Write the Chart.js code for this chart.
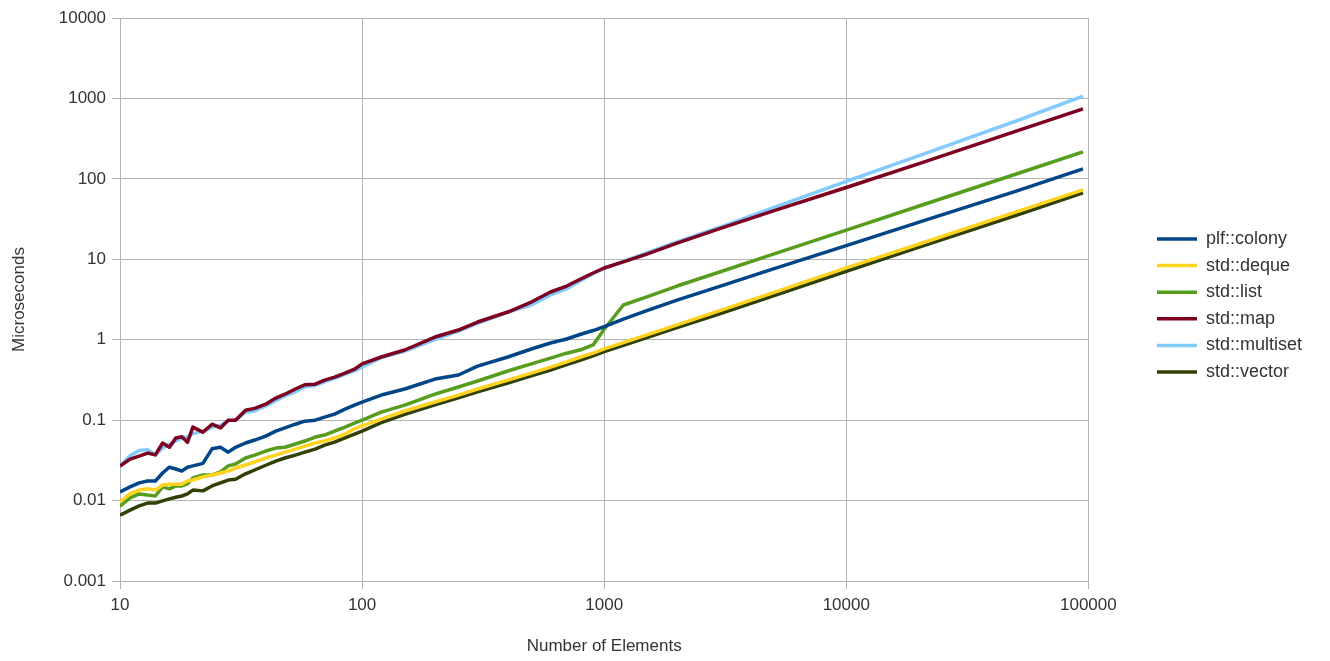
<!DOCTYPE html>
<html>
<head>
<meta charset="utf-8">
<script src="https://cdn.jsdelivr.net/npm/chart.js@4/dist/chart.umd.min.js"></script>
<style>
  body { margin: 0; background: #fff; }
  #wrap { width: 1330px; height: 661px; }
</style>
</head>
<body>
<div id="wrap"><canvas id="benchChart" width="1330" height="661"></canvas></div>
<script>
// number of elements (x) shared by all series
var sizes = [10, 11, 12, 13, 14, 15, 16, 17, 18, 19, 20, 22, 24, 26, 28, 30, 33, 36, 40, 44, 48, 53, 58, 64, 70, 77, 85, 93, 100,
    120, 150, 200, 250, 300, 400, 500, 600, 700, 800, 900, 1000, 1200, 1500, 2000, 3000, 5000, 10000, 20000, 50000, 95000];

// microseconds
var colony = [0.0128, 0.0148, 0.0166, 0.0175, 0.0175, 0.022, 0.026, 0.0247, 0.0233, 0.026, 0.027, 0.029, 0.044, 0.046, 0.040, 0.046,
    0.052, 0.0566, 0.0634, 0.073, 0.080, 0.089, 0.097, 0.100, 0.109, 0.119, 0.137, 0.154, 0.168,
    0.205, 0.244, 0.324, 0.364, 0.47, 0.61, 0.766, 0.91, 1.02, 1.17, 1.3, 1.45, 1.8, 2.3, 3.1, 4.6, 7.6, 14.8, 29, 70, 133];
var deque = [0.0096, 0.0121, 0.0135, 0.014, 0.0135, 0.0156, 0.016, 0.016, 0.016, 0.0175, 0.018, 0.0197, 0.0208, 0.022, 0.0233, 0.0254,
    0.0277, 0.0302, 0.0338, 0.0368, 0.040, 0.0437, 0.0476, 0.052, 0.055, 0.060, 0.0672, 0.078, 0.085,
    0.103, 0.13, 0.168, 0.205, 0.244, 0.315, 0.385, 0.457, 0.53, 0.61, 0.68, 0.77, 0.92, 1.15, 1.53, 2.3, 3.85, 7.8, 15.5, 38.5, 73];
var list = [0.0085, 0.0108, 0.0121, 0.0117, 0.0114, 0.0148, 0.014, 0.0152, 0.0152, 0.0161, 0.0191, 0.0208, 0.0208, 0.0227, 0.027, 0.0285,
    0.0338, 0.0368, 0.0413, 0.0449, 0.046, 0.0505, 0.055, 0.0617, 0.0653, 0.0732, 0.082, 0.092, 0.10,
    0.126, 0.154, 0.211, 0.258, 0.307, 0.408, 0.5, 0.59, 0.68, 0.75, 0.86, 1.35, 2.7, 3.4, 4.65, 6.95, 11.6, 23, 46, 114, 216];
var map = [0.0269, 0.0328, 0.0357, 0.039, 0.037, 0.052, 0.046, 0.060, 0.062, 0.053, 0.082, 0.071, 0.089, 0.080, 0.10, 0.10,
    0.133, 0.14, 0.158, 0.188, 0.21, 0.244, 0.275, 0.28, 0.315, 0.343, 0.385, 0.43, 0.5,
    0.61, 0.745, 1.08, 1.32, 1.66, 2.21, 2.94, 3.92, 4.65, 5.69, 6.75, 7.79, 9.3, 11.6, 15.9, 24, 40, 78, 155, 390, 740];
var multiset = [0.027, 0.036, 0.042, 0.043, 0.037, 0.045, 0.05, 0.055, 0.06, 0.062, 0.068, 0.072, 0.082, 0.086, 0.1, 0.1,
    0.125, 0.13, 0.15, 0.175, 0.2, 0.225, 0.26, 0.27, 0.3, 0.33, 0.37, 0.41, 0.46,
    0.6, 0.72, 1.0, 1.28, 1.6, 2.2, 2.7, 3.6, 4.3, 5.4, 6.6, 7.7, 9.4, 12, 16.5, 25, 44, 93, 195, 520, 1070];
var vector = [0.0066, 0.0076, 0.0086, 0.0093, 0.0093, 0.0099, 0.0105, 0.011, 0.0114, 0.0121, 0.0135, 0.0132, 0.0152, 0.0166, 0.018, 0.0184,
    0.0215, 0.024, 0.0275, 0.031, 0.0338, 0.0368, 0.040, 0.0437, 0.049, 0.0534, 0.06, 0.0672, 0.073,
    0.093, 0.118, 0.155, 0.19, 0.225, 0.29, 0.355, 0.42, 0.49, 0.56, 0.63, 0.71, 0.85, 1.06, 1.41, 2.1, 3.5, 7.1, 14.2, 35, 67];

var xTicks = [10, 100, 1000, 10000, 100000];
var yTicks = [0.001, 0.01, 0.1, 1, 10, 100, 1000, 10000];

var gridColor = '#b3b3b3';
var textColor = '#333333';
var fontFamily = '"Liberation Sans", Arial, sans-serif';

function pts(vals) {
    return sizes.map(function (x, i) { return { x: x, y: vals[i] }; });
}

function series(label, vals, color) {
    return {
        label: label,
        data: pts(vals),
        borderColor: color,
        backgroundColor: color,
        borderWidth: 3.5,
        pointRadius: 0,
        borderJoinStyle: 'round',
        tension: 0
    };
}

new Chart(document.getElementById('benchChart'), {
    type: 'line',
    data: {
        datasets: [
            series('plf::colony', colony, '#004586'),
            series('std::deque', deque, '#ffd320'),
            series('std::list', list, '#579d1c'),
            series('std::map', map, '#7e0021'),
            series('std::multiset', multiset, '#83caff'),
            series('std::vector', vector, '#314004')
        ]
    },
    options: {
        responsive: false,
        animation: false,
        layout: { padding: { top: 18, right: 18, bottom: 0, left: 0 } },
        plugins: {
            tooltip: { enabled: false },
            legend: {
                position: 'right',
                fullSize: false,
                title: { display: true, text: ' ', font: { size: 10 }, padding: 0 },
                labels: {
                    usePointStyle: true,
                    pointStyle: 'line',
                    pointStyleWidth: 40,
                    padding: 8.6,
                    color: textColor,
                    font: { family: fontFamily, size: 18 }
                }
            }
        },
        scales: {
            x: {
                type: 'logarithmic',
                min: 10,
                max: 100000,
                afterBuildTicks: function (s) { s.ticks = xTicks.map(function (v) { return { value: v }; }); },
                afterFit: function (s) { s.height = 80; },
                ticks: {
                    color: textColor,
                    font: { family: fontFamily, size: 17 },
                    padding: 6,
                    maxRotation: 0,
                    autoSkip: false,
                    callback: function (v) { return String(v); }
                },
                grid: { color: gridColor, tickColor: gridColor, tickLength: 8 },
                border: { color: gridColor },
                title: {
                    display: true,
                    text: 'Number of Elements',
                    color: textColor,
                    font: { family: fontFamily, size: 17 },
                    padding: { top: 0, bottom: 4 }
                }
            },
            y: {
                type: 'logarithmic',
                min: 0.001,
                max: 10000,
                afterBuildTicks: function (s) { s.ticks = yTicks.map(function (v) { return { value: v }; }); },
                afterFit: function (s) { s.width = 120; },
                ticks: {
                    color: textColor,
                    font: { family: fontFamily, size: 17 },
                    padding: 6,
                    autoSkip: false,
                    callback: function (v) { return String(v); }
                },
                grid: { color: gridColor, tickColor: gridColor, tickLength: 8 },
                border: { color: gridColor },
                title: {
                    display: true,
                    text: 'Microseconds',
                    color: textColor,
                    font: { family: fontFamily, size: 17 },
                    padding: { top: 9, bottom: 0 }
                }
            },
            // empty axis, only keeps the gap between plot and legend
            gap: {
                type: 'linear',
                position: 'right',
                display: true,
                grid: { display: false },
                border: { display: false },
                ticks: { display: false },
                afterFit: function (s) { s.width = 60; }
            }
        }
    }
});
</script>
</body>
</html>
